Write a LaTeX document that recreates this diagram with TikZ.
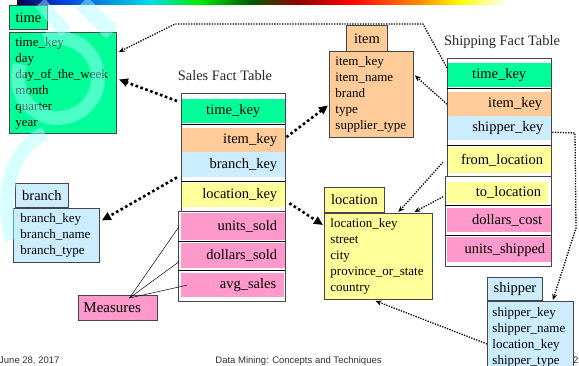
\documentclass[tikz,border=0pt]{standalone}
\usepackage{fontspec}
\setmainfont{Liberation Serif}
\newfontfamily\footfont{Liberation Sans}
\usetikzlibrary{arrows.meta}

\definecolor{dimgreen}{RGB}{0,255,153}
\definecolor{dimorange}{RGB}{255,204,153}
\definecolor{dimblue}{RGB}{204,236,255}
\definecolor{dimyellow}{RGB}{255,255,153}
\definecolor{dimpink}{RGB}{255,153,204}
\definecolor{wmcyan}{RGB}{170,255,255}
\definecolor{framegray}{RGB}{70,70,70}
\definecolor{footgray}{RGB}{50,50,50}

\begin{document}
\begin{tikzpicture}[x=1pt,y=-1pt,
  hdr/.style={draw=framegray, line width=0.9pt, anchor=north west, inner sep=0pt,
    font=\fontsize{14.5}{16}\selectfont},
  dimbody/.style={draw=framegray, line width=0.9pt, anchor=north west, inner xsep=6pt,
    inner ysep=0pt, align=left, font=\fontsize{13}{16}\selectfont},
  factrow/.style={anchor=north west, inner xsep=8pt, inner ysep=0pt, align=right,
    minimum width=104pt, text width=88pt, font=\fontsize{14.5}{17}\selectfont},
  frame/.style={draw=framegray, line width=0.9pt},
  rule/.style={draw=black, line width=0.9pt},
  thickdot/.style={line width=2.6pt, dash pattern=on 2.6pt off 2.6pt,
    -{Triangle[length=9pt,width=8pt]}},
  thindot/.style={line width=1.3pt, dash pattern=on 1.3pt off 1.3pt,
    -{Stealth[length=6pt,width=5pt]}},
  measline/.style={line width=0.5pt},
  title/.style={inner sep=0pt, font=\fontsize{14.4}{16}\selectfont, text=black!85},
  foot/.style={inner sep=0pt, font=\footfont\fontsize{9.5}{11}\selectfont, text=footgray},
  wm/.style={draw=wmcyan, opacity=0.45, line cap=butt}
]
\useasboundingbox (0,0) rectangle (579,366);
\fill[white] (0,0) rectangle (579,366);

% colour band along the top edge
\shade[left color={rgb,255:red,0;green,0;blue,80}, right color={rgb,255:red,0;green,60;blue,220}] (17,0) rectangle (60,5);
\shade[left color={rgb,255:red,0;green,60;blue,220}, right color={rgb,255:red,0;green,220;blue,230}] (60,0) rectangle (150,5);
\shade[left color={rgb,255:red,0;green,220;blue,230}, right color={rgb,255:red,0;green,235;blue,0}] (150,0) rectangle (200,5);
\shade[left color={rgb,255:red,0;green,235;blue,0}, right color={rgb,255:red,0;green,90;blue,0}] (200,0) rectangle (250,5);
\shade[left color={rgb,255:red,0;green,90;blue,0}, right color={rgb,255:red,150;green,0;blue,0}] (250,0) rectangle (300,5);
\shade[left color={rgb,255:red,150;green,0;blue,0}, right color={rgb,255:red,255;green,0;blue,0}] (300,0) rectangle (350,5);
\shade[left color={rgb,255:red,255;green,0;blue,0}, right color={rgb,255:red,255;green,140;blue,0}] (350,0) rectangle (420,5);
\shade[left color={rgb,255:red,255;green,140;blue,0}, right color={rgb,255:red,255;green,255;blue,0}] (420,0) rectangle (460,5);
\shade[left color={rgb,255:red,255;green,255;blue,0}, right color=white] (460,0) rectangle (507,5);

% page number sits behind the shipper table
\node[foot, anchor=base west] (pgno) at (573,364) {2};

% ---------- dimension tables ----------
\node[hdr, fill=dimgreen, minimum width=38pt, minimum height=24pt] (timeH) at (9,5) {time};
\node[dimbody, fill=dimgreen, minimum width=107pt, minimum height=101pt, text width=95pt] (timeB) at (9,32)
  {time\_key\\day\\day\_of\_the\_week\\month\\quarter\\year};

\node[hdr, fill=dimorange, minimum width=41pt, minimum height=26pt] (itemH) at (346,25) {item};
\node[dimbody, fill=dimorange, minimum width=84pt, minimum height=86pt, text width=72pt] (itemB) at (329,51)
  {item\_key\\item\_name\\brand\\type\\supplier\_type};

\node[hdr, fill=dimblue, minimum width=53pt, minimum height=24pt] (branchH) at (15,183) {branch};
\node[dimbody, fill=dimblue, minimum width=85pt, minimum height=54pt, text width=72pt, inner xsep=7pt] (branchB) at (13,208)
  {branch\_key\\branch\_name\\branch\_type};

\node[hdr, fill=dimyellow, minimum width=60pt, minimum height=25pt] (locH) at (324,187) {location};
\node[dimbody, fill=dimyellow, minimum width=108pt, minimum height=86pt, text width=96pt] (locB) at (324,213)
  {location\_key\\street\\city\\province\_or\_state\\country};

\node[hdr, fill=dimblue, minimum width=55pt, minimum height=23pt] (shipperH) at (487,277) {shipper};
\node[dimbody, fill=dimblue, minimum width=86pt, minimum height=71pt, text width=76pt, inner xsep=5pt] (shipperB) at (487,301)
  {shipper\_key\\shipper\_name\\location\_key\\shipper\_type};

% ---------- Sales fact table ----------
\node[title] (salesT) at (225,76) {Sales Fact Table};
\node[factrow, fill=dimgreen, minimum height=24pt, align=center] (sTime) at (181,99) {time\_key};
\node[factrow, fill=dimorange, minimum height=24pt] (sItem) at (181,128) {item\_key};
\node[factrow, fill=dimblue, minimum height=25pt] (sBranch) at (181,152) {branch\_key};
\node[factrow, fill=dimyellow, minimum height=24pt] (sLoc) at (181,183) {location\_key};
\node[factrow, fill=dimpink, minimum height=27pt] (sUnits) at (181,213) {units\_sold};
\node[factrow, fill=dimpink, minimum height=25pt] (sDollars) at (181,243) {dollars\_sold};
\node[factrow, fill=dimpink, minimum height=24pt, minimum width=103pt, text width=87pt] (sAvg) at (181,273) {avg\_sales};
\draw[frame] (181,93) rectangle (285,211);
\draw[frame] (178,211) rectangle (285,301);
\draw[rule] (181,124) -- (285,124);
\draw[rule] (181,181.5) -- (285,181.5);
\draw[rule] (178,241.5) -- (285,241.5);
\draw[rule] (178,270.5) -- (285,270.5);

% ---------- Shipping fact table ----------
\node[title] (shipT) at (502,42) {Shipping Fact Table};
\node[factrow, fill=dimgreen, minimum height=24pt, align=center] (shTime) at (447,63) {time\_key};
\node[factrow, fill=dimorange, minimum height=24pt, inner xsep=9pt, text width=86pt] (shItem) at (447,92) {item\_key};
\node[factrow, fill=dimblue, minimum height=24pt, inner xsep=8pt] (shShip) at (447,116) {shipper\_key};
\node[factrow, fill=dimyellow, minimum height=26pt, inner xsep=8pt] (shFrom) at (447,147) {from\_location};
\node[factrow, fill=dimyellow, minimum height=21pt, minimum width=101pt, text width=87pt, inner xsep=7pt] (shTo) at (447,182) {to\_location};
\node[factrow, fill=dimpink, minimum height=24pt, inner xsep=9pt, text width=86pt] (shCost) at (447,208) {dollars\_cost};
\node[factrow, fill=dimpink, minimum height=25pt, inner xsep=6pt, text width=92pt] (shUnits) at (447,237) {units\_shipped};
\draw[frame] (447,58) rectangle (551,176);
\draw[frame] (445,176) rectangle (551,266);
\draw[rule] (447,88) -- (551,88);
\draw[rule] (447,145) -- (551,145);
\draw[rule] (445,205.5) -- (551,205.5);
\draw[rule] (445,235) -- (551,235);

% ---------- Measures ----------
\node[draw=framegray, line width=0.9pt, fill=dimpink, anchor=north west, minimum width=79pt, minimum height=25pt,
  inner xsep=5pt, inner ysep=0pt, text width=69pt, align=left, font=\fontsize{15}{17}\selectfont] (meas) at (78,295) {Measures};
\coordinate (measPt) at ([xshift=11.5pt,yshift=-3pt]meas.north);
\draw[measline] (measPt) -- ([xshift=-2pt]sUnits.west);
\draw[measline] (measPt) -- ([xshift=-2pt,yshift=-6pt]sDollars.west);
\draw[measline] (measPt) -- ([xshift=6pt]sAvg.west);

% ---------- key references ----------
\draw[thickdot] ([xshift=-4pt,yshift=-2pt]sTime.north west) -- ([xshift=2pt,yshift=3.5pt]timeB.east);
\draw[thickdot] ([xshift=1pt,yshift=3pt]sItem.east) -- ([xshift=-1pt,yshift=-11pt]itemB.west);
\draw[thickdot] ([xshift=-4pt]sBranch.south west) -- ([xshift=2pt,yshift=15pt]branchB.east);
\draw[thickdot] ([xshift=4pt,yshift=-8pt]sLoc.east) -- ([xshift=-1pt,yshift=-12pt]locB.north west);

\draw[thindot] ([yshift=-5pt]shTime.north west) -- (423,24) -- (175,24) -- ([xshift=2pt,yshift=-20pt]timeB.north east);
\draw[thindot] (shItem.west) -- ([xshift=1pt,yshift=19pt]itemB.east);
\draw[thindot] ([xshift=-4pt,yshift=-2pt]shFrom.west) -- ([xshift=20pt,yshift=1pt]locB.north);
\draw[thindot] ([xshift=-4pt,yshift=-4pt]shTo.west) -- ([xshift=36pt,yshift=1pt]locB.north);
\draw[thindot] ([xshift=1pt,yshift=-4pt]shShip.east) -- (575,133) -- (576,228) -- ([xshift=-21pt,yshift=1pt]shipperB.north east);
\draw[thindot] ([yshift=-7pt]shipperB.west) -- ([xshift=-3pt,yshift=-1pt]locB.south);

% ---------- footer ----------
\node[foot, anchor=base west] (date) at (-1,364) {June 28, 2017};
\node[foot, anchor=base] (course) at (298.5,364) {Data Mining: Concepts and Techniques};

% ---------- faint watermark over the left margin ----------
\draw[wm, line width=14pt] (58,78) ++(160:40pt) arc[start angle=160, end angle=470, radius=40pt];
\draw[wm, line width=13pt] (40,3) -- (66,32);
\draw[wm, line width=16pt] (82,3) -- (112,33);
\draw[wm, line width=14pt] (45,133) .. controls (10,150) and (0,195) .. (12,240);
\end{tikzpicture}
\end{document}
